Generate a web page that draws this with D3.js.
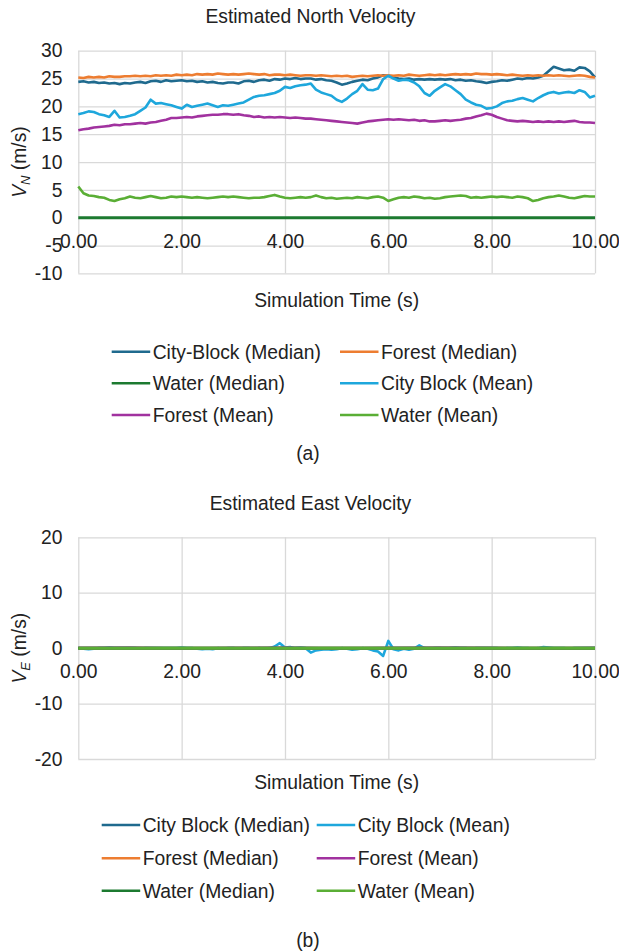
<!DOCTYPE html>
<html>
<head>
<meta charset="utf-8">
<script src="https://cdn.jsdelivr.net/npm/d3@7"></script>
<style>
  body { margin: 0; background: #fff; }
  svg { display: block; font-family: "Liberation Sans", Arial, sans-serif; }
  .grid line { stroke: #d9d9d9; stroke-width: 1.3; }
  .tick text { fill: #222; font-size: 19.3px; }
  .lbl { fill: #222; font-size: 19.3px; }
</style>
</head>
<body>
<div id="chart"></div>
<script>
// sample times (s)
const timeFine = d3.range(0, 101).map(i => i / 10);
const timeCoarse = [0, 1, 2, 3, 4, 5, 6, 7, 8, 9, 10];

// ---- (a) north velocity, m/s ----
const nCityMedian = [
  24.4, 24.5, 24.3, 24.4, 24.2, 24.3, 24.1, 24.2, 24.0, 24.2,
  24.1, 24.3, 24.4, 24.2, 24.5, 24.6, 24.4, 24.7, 24.5, 24.6,
  24.7, 24.5, 24.6, 24.4, 24.5, 24.3, 24.4, 24.2, 24.1, 24.3,
  24.3, 24.1, 24.5, 24.6, 24.4, 24.7, 24.8, 24.6, 24.9, 24.8,
  25.0, 24.9, 25.1, 24.9, 25.0, 25.0, 24.8, 24.9, 24.7, 24.6,
  24.3, 23.9, 24.1, 24.4, 24.6, 24.8, 24.7, 25.0, 25.2, 25.6,
  25.5, 25.2, 25.0, 24.9, 25.0, 24.8, 24.9, 24.8, 24.9, 24.8,
  24.9, 24.8, 24.9, 24.7, 24.8, 24.6, 24.7, 24.5, 24.4, 24.2,
  24.4, 24.5, 24.7, 24.6, 24.8, 25.0, 24.9, 25.1, 25.0, 25.2,
  25.5, 26.3, 27.1, 26.8, 26.5, 26.6, 26.4, 27.0, 26.9, 26.3,
  25.2
];
const nForestMedian = [
  25.2, 25.1, 25.3, 25.2, 25.3, 25.2, 25.4, 25.3, 25.3, 25.4,
  25.4, 25.5, 25.4, 25.5, 25.4, 25.6, 25.5, 25.6, 25.5, 25.7,
  25.6, 25.7, 25.6, 25.8, 25.7, 25.8, 25.7, 25.9, 25.8, 25.7,
  25.8, 25.7, 25.8, 25.9, 25.8, 25.7, 25.8, 25.6, 25.7, 25.7,
  25.6, 25.7, 25.6, 25.5, 25.6, 25.6, 25.5, 25.6, 25.5, 25.4,
  25.5, 25.4, 25.5, 25.3, 25.4, 25.5, 25.4, 25.5, 25.6, 25.5,
  25.6, 25.5, 25.6, 25.5, 25.7, 25.6, 25.5, 25.6, 25.7, 25.6,
  25.7, 25.6, 25.7, 25.8, 25.7, 25.8, 25.7, 25.9, 25.8, 25.8,
  25.7, 25.8, 25.7, 25.6, 25.7, 25.6, 25.5, 25.6, 25.5, 25.6,
  25.5, 25.6, 25.5, 25.6, 25.5, 25.4, 25.5, 25.6, 25.5, 25.3,
  25.2
];
const nWaterMedian = [0, 0, 0, 0, 0, 0, 0, 0, 0, 0, 0];
const nCityMean = [
  18.6, 18.8, 19.1, 19.0, 18.6, 18.4, 18.1, 19.2, 18.0, 18.1,
  18.3, 18.6, 19.2, 19.8, 21.2, 20.5, 20.6, 20.4, 20.2, 19.9,
  19.6, 20.3, 19.9, 20.1, 20.3, 20.5, 20.2, 19.9, 20.2, 20.1,
  20.3, 20.5, 20.7, 21.2, 21.7, 21.9, 22.0, 22.2, 22.4, 22.8,
  23.5, 23.3, 23.6, 23.8, 23.9, 24.1, 23.0, 22.5, 22.2, 21.9,
  21.2, 20.8, 21.4, 22.2, 22.8, 24.0, 23.0, 22.9, 23.2, 24.9,
  25.5, 25.0, 24.6, 24.8, 24.7, 24.3, 23.6, 22.4, 21.9, 22.8,
  23.4, 24.0, 23.6, 22.9, 22.2, 21.2, 20.7, 20.3, 20.1, 19.6,
  19.7, 20.0, 20.6, 20.9, 21.0, 21.3, 21.5, 21.2, 20.9, 21.5,
  22.0, 22.4, 22.6, 22.3, 22.5, 22.6, 22.4, 22.9, 22.6, 21.6,
  21.9
];
const nForestMean = [
  15.7, 15.9, 16.0, 16.2, 16.3, 16.4, 16.5, 16.7, 16.6, 16.8,
  16.8, 16.9, 17.0, 16.9, 17.1, 17.2, 17.4, 17.6, 17.9, 17.9,
  18.0, 18.1, 18.0, 18.2, 18.3, 18.4, 18.5, 18.5, 18.6, 18.6,
  18.5, 18.6, 18.4, 18.3, 18.1, 18.2, 18.0, 18.1, 18.0, 18.1,
  18.0, 17.9, 18.0, 17.9, 17.8, 17.8, 17.7, 17.6, 17.5, 17.4,
  17.3, 17.2, 17.1, 17.0, 16.9, 17.1, 17.3, 17.4, 17.5, 17.6,
  17.7, 17.6, 17.7, 17.6, 17.5, 17.6, 17.4, 17.5, 17.3, 17.3,
  17.4, 17.5, 17.4, 17.5, 17.6, 17.8, 17.9, 18.2, 18.4, 18.7,
  18.5, 18.1, 17.8, 17.5, 17.4, 17.3, 17.4, 17.3, 17.2, 17.3,
  17.2, 17.3, 17.2, 17.3, 17.2, 17.3, 17.4, 17.2, 17.1, 17.1,
  17.0
];
const nWaterMean = [
  5.6, 4.4, 4.0, 3.9, 3.7, 3.6, 3.2, 3.0, 3.3, 3.5,
  3.8, 3.6, 3.5, 3.7, 3.9, 3.7, 3.5, 3.6, 3.8, 3.7,
  3.8, 3.7, 3.6, 3.7, 3.6, 3.5, 3.6, 3.7, 3.8, 3.7,
  3.8, 3.7, 3.6, 3.5, 3.6, 3.6, 3.7, 3.9, 4.1, 3.8,
  3.6, 3.5, 3.6, 3.7, 3.6, 3.7, 4.0, 3.7, 3.5, 3.6,
  3.4, 3.5, 3.6, 3.5, 3.7, 3.6, 3.5, 3.7, 3.8, 3.6,
  3.0, 3.3, 3.6, 3.7, 3.6, 3.8, 3.7, 3.5, 3.6, 3.4,
  3.5, 3.7, 3.8, 3.9, 4.0, 3.9, 3.6, 3.7, 3.6, 3.7,
  3.8, 3.7, 3.8, 3.7, 3.6, 3.8, 3.7, 3.5, 3.0, 3.2,
  3.5, 3.7, 3.8, 4.0, 3.8, 3.6, 3.5, 3.7, 3.9, 3.8,
  3.8
];

// ---- (b) east velocity, m/s ----
const eCityMedian = [0, 0, 0, 0, 0, 0, 0, 0, 0, 0, 0];
const eForestMedian = [0, 0, 0, 0, 0, 0, 0, 0, 0, 0, 0];
const eWaterMedian = [0, 0, 0, 0, 0, 0, 0, 0, 0, 0, 0];
const eForestMean = [0, 0.05, -0.05, 0, 0.05, -0.05, 0, 0.05, 0, -0.05, 0];
const eWaterMean = [0, 0, 0, 0, 0, 0, 0, 0, 0, 0, 0];
const eCityMean = [
  0, -0.1, -0.2, -0.1, 0, 0, 0.1, 0, 0, 0,
  0, 0, -0.1, 0, 0, 0, 0, 0, 0, 0,
  0.1, 0, 0, -0.1, -0.2, -0.1, -0.2, 0, -0.1, 0,
  0, -0.1, 0, 0, -0.1, 0, -0.1, 0, 0.3, 0.9,
  0.1, 0.2, 0, 0.1, 0, -0.8, -0.4, -0.3, -0.2, -0.3,
  -0.2, 0, -0.1, -0.3, -0.2, 0, -0.1, -0.4, -0.6, -1.4,
  1.3, -0.2, -0.4, -0.1, -0.3, -0.1, 0.5, 0, -0.1, 0,
  0, -0.1, 0, 0.1, 0, 0, -0.1, 0, 0, 0,
  0, 0, -0.1, 0, 0, 0.1, 0, 0, -0.1, 0,
  0.2, 0.1, 0, 0, 0, -0.1, 0, 0, 0, 0,
  0
];

const xTicks = [0, 2, 4, 6, 8, 10];
const yTicksN = [-10, -5, 0, 5, 10, 15, 20, 25, 30];
const yTicksE = [-20, -10, 0, 10, 20];

const colors = {
  cityMed: '#1f6a8e', forestMed: '#ed7d31', waterMed: '#1c7a30',
  cityMean: '#1ea7dc', forestMean: '#a1329f', waterMean: '#5aae35'
};

const svg = d3.select('#chart').append('svg')
  .attr('width', 619).attr('height', 951);
svg.append('rect').attr('width', 619).attr('height', 951).attr('fill', '#fff');

function drawPanel(cfg) {
  const x = d3.scaleLinear().domain([0, 10]).range([78.3, 595]);
  const y = d3.scaleLinear().domain(cfg.yDomain).range([cfg.bottom, cfg.top]);
  const g = svg.append('g');

  // horizontal grid + y labels
  g.append('g')
    .attr('class', 'grid')
    .attr('transform', `translate(${x(0)},0)`)
    .call(d3.axisLeft(y).tickValues(cfg.yTicks)
      .tickSize(-(x(10) - x(0))).tickPadding(15.8)
      .tickFormat(d => String(d)))
    .call(a => a.select('.domain').remove());

  // vertical grid
  g.append('g')
    .attr('class', 'grid')
    .attr('transform', `translate(0,${cfg.bottom})`)
    .call(d3.axisBottom(x).tickValues(xTicks)
      .tickSize(-(cfg.bottom - cfg.top)).tickFormat(''))
    .call(a => a.select('.domain').remove());

  // series
  const line = d3.line().x(d => x(d[0])).y(d => y(d[1]));
  cfg.series.forEach(s => {
    const pts = s.t.map((t, i) => [t, s.v[i]]);
    g.append('path')
      .attr('d', line(pts))
      .attr('fill', 'none')
      .attr('stroke', s.color)
      .attr('stroke-width', s.w || 2.6)
      .attr('stroke-linejoin', 'round');
  });

  // x labels at the zero line
  g.append('g')
    .attr('transform', `translate(0,${y(0)})`)
    .call(d3.axisBottom(x).tickValues(xTicks).tickSize(0).tickPadding(16.3)
      .tickFormat(d3.format('.2f')))
    .call(a => a.select('.domain').remove());

  // titles
  g.append('text').attr('class', 'lbl')
    .attr('x', 310.5).attr('y', cfg.titleY)
    .attr('text-anchor', 'middle').text(cfg.title);
  g.append('text').attr('class', 'lbl')
    .attr('x', (x(0) + x(10)) / 2).attr('y', cfg.xTitleY)
    .attr('text-anchor', 'middle').text('Simulation Time (s)');

  const yt = g.append('text').attr('class', 'lbl')
    .attr('transform', `translate(25.5,${(cfg.top + cfg.bottom) / 2}) rotate(-90)`)
    .attr('text-anchor', 'middle');
  yt.append('tspan').attr('font-style', 'italic').text('V');
  yt.append('tspan').attr('font-style', 'italic').attr('font-size', '13px')
    .attr('dy', 4).text(cfg.sub);
  yt.append('tspan').attr('dy', -4).text(' (m/s)');

  // legend
  const leg = g.append('g');
  cfg.series.forEach((s, i) => {
    const col = cfg.legendOrder[i][0], row = cfg.legendOrder[i][1];
    const lx = cfg.legendX[col], ly = cfg.legendY[row];
    leg.append('line')
      .attr('x1', lx).attr('x2', lx + 38.5)
      .attr('y1', ly).attr('y2', ly)
      .attr('stroke', s.color).attr('stroke-width', 2.6);
    leg.append('text').attr('class', 'lbl')
      .attr('x', lx + 41).attr('y', ly + 7)
      .text(s.name);
  });

  g.append('text').attr('class', 'lbl')
    .attr('x', 308).attr('y', cfg.capY)
    .attr('text-anchor', 'middle').text(cfg.caption);
}

drawPanel({
  title: 'Estimated North Velocity', titleY: 23, xTitleY: 307,
  top: 50.7, bottom: 273.4, yDomain: [-10, 30], yTicks: yTicksN, sub: 'N',
  series: [
    { name: 'City-Block (Median)', t: timeFine, v: nCityMedian, color: colors.cityMed },
    { name: 'Forest (Median)', t: timeFine, v: nForestMedian, color: colors.forestMed },
    { name: 'Water (Median)', t: timeCoarse, v: nWaterMedian, color: colors.waterMed, w: 3 },
    { name: 'City Block (Mean)', t: timeFine, v: nCityMean, color: colors.cityMean },
    { name: 'Forest (Mean)', t: timeFine, v: nForestMean, color: colors.forestMean },
    { name: 'Water (Mean)', t: timeFine, v: nWaterMean, color: colors.waterMean }
  ],
  legendOrder: [[0, 0], [1, 0], [0, 1], [1, 1], [0, 2], [1, 2]],
  legendX: [111.7, 340], legendY: [351.7, 383.3, 415],
  caption: '(a)', capY: 460
});

drawPanel({
  title: 'Estimated East Velocity', titleY: 510, xTitleY: 789,
  top: 537.3, bottom: 759, yDomain: [-20, 20], yTicks: yTicksE, sub: 'E',
  series: [
    { name: 'City Block (Median)', t: timeCoarse, v: eCityMedian, color: colors.cityMed },
    { name: 'City Block (Mean)', t: timeFine, v: eCityMean, color: colors.cityMean },
    { name: 'Forest (Median)', t: timeCoarse, v: eForestMedian, color: colors.forestMed },
    { name: 'Forest (Mean)', t: timeCoarse, v: eForestMean, color: colors.forestMean },
    { name: 'Water (Median)', t: timeCoarse, v: eWaterMedian, color: colors.waterMed },
    { name: 'Water (Mean)', t: timeCoarse, v: eWaterMean, color: colors.waterMean, w: 3 }
  ],
  legendOrder: [[0, 0], [1, 0], [0, 1], [1, 1], [0, 2], [1, 2]],
  legendX: [101.7, 316.7], legendY: [825, 858.3, 890.7],
  caption: '(b)', capY: 947
});
</script>
</body>
</html>
